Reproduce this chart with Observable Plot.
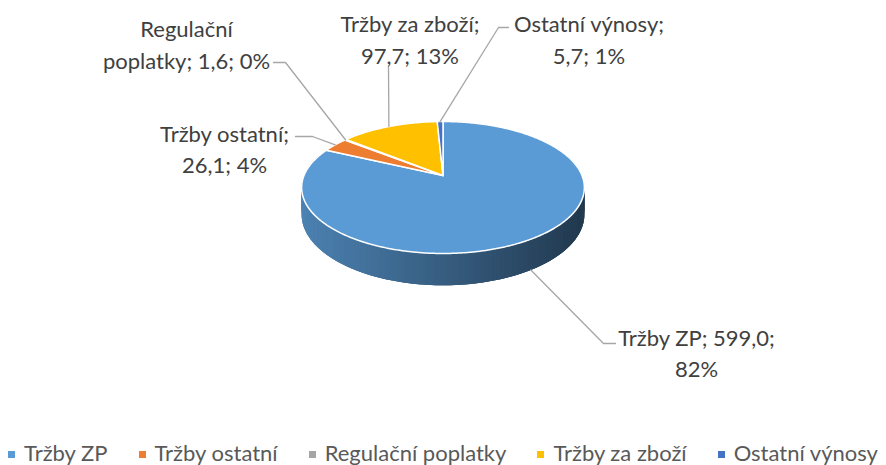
<!DOCTYPE html>
<html>
<head>
<meta charset="utf-8">
<script src="https://cdn.jsdelivr.net/npm/d3@7"></script>
<script src="https://cdn.jsdelivr.net/npm/@observablehq/plot@0.6"></script>
<style>
  html, body { margin: 0; padding: 0; background: #fff; }
  #chart { width: 886px; }
  .legend { display: flex; justify-content: center; align-items: center; gap: 31px; height: 33px; margin-top: 4px;
            font: 22px Lato, sans-serif; color: #595959; white-space: nowrap; }
  .legend .sw { display: inline-block; width: 7px; height: 7px; margin-right: 9px; vertical-align: middle; position: relative; top: -1px; }
</style>
</head>
<body>
<div id="chart"></div>
<script>
// ---- data ----
const categories = ["Tržby ZP", "Tržby ostatní", "Regulační poplatky", "Tržby za zboží", "Ostatní výnosy"];
const values = [599.0, 26.1, 1.6, 97.7, 5.7];
const colors = ["#5b9bd5", "#ed7d31", "#a5a5a5", "#ffc000", "#4472c4"];

// ---- layout (3D pie geometry, label placement) ----
const W = 886, H = 432;
const geo = { cx: 442.5, cy: 175, R: 139, B: 63.8, k: -0.182, D: 26 };
// label centres and leader elbows/ends for each category (same order)
const labelLayout = [
  { x: 696, y: 351, elbow: [603, 343], end: [615, 343] },
  { x: 224, y: 147, elbow: [312, 136], end: [295, 136] },
  { x: 186, y: 42.5, elbow: [285, 62], end: [273, 62] },
  { x: 409.5, y: 37.5, elbow: [388, 67], end: [388, 67] },
  { x: 588.5, y: 37.5, elbow: [498, 27], end: [508, 27] }
];

function proj(theta, depth = 0) {
  const u = Math.sin(theta), v = -Math.cos(theta);
  const s = 1 / (1 + geo.k * v);
  return [geo.cx + geo.R * u * s, geo.cy + geo.B * v * s + depth * geo.D * s];
}

const total = d3.sum(values);
const rows = categories.map((name, i) => ({ name, value: values[i], color: colors[i] }));
const arcs = d3.pie().sort(null).value(d => d.value).startAngle(0).endAngle(2 * Math.PI)(rows);

// top-face slice polygons
const slicePts = [];
arcs.forEach(a => {
  const name = a.data.name, color = a.data.color;
  slicePts.push({ name, color, x: geo.cx, y: geo.cy });
  const n = Math.max(2, Math.ceil((a.endAngle - a.startAngle) / (Math.PI / 360)));
  for (let j = 0; j <= n; j++) {
    const t = a.startAngle + (a.endAngle - a.startAngle) * j / n;
    const [x, y] = proj(t, 0);
    slicePts.push({ name, color, x, y });
  }
  slicePts.push({ name, color, x: geo.cx, y: geo.cy });
});

// side wall quads (front part), shaded by horizontal position; overlapping to avoid seams
const xs = d3.range(0, 360, 0.5).map(d => proj(d * Math.PI / 180, 0)[0]);
const xMin = d3.min(xs), xMax = d3.max(xs);
function sliceAt(theta) {
  return arcs.find(a => theta >= a.startAngle && theta < a.endAngle) || arcs[0];
}
const sidePts = [];
const step = Math.PI / 360;
let id = 0;
for (let t = 60 * Math.PI / 180; t < 300 * Math.PI / 180; t += step, id++) {
  const t1 = t + 3 * step;
  const base = d3.color(sliceAt(t + step / 2).data.color);
  const p0 = proj(t, 0), p1 = proj(t1, 0), p2 = proj(t1, 1), p3 = proj(t, 1);
  const f = (proj(t + step / 2, 0)[0] - xMin) / (xMax - xMin);
  const col = d3.interpolateRgb(base.darker(0.5), base.darker(2.8))(Math.max(0, Math.min(1, f)));
  [p0, p1, p2, p3, p0].forEach(p => sidePts.push({ id, color: col, x: p[0], y: p[1] }));
}

// labels
const canvas = document.createElement("canvas");
const ctx = canvas.getContext("2d");
ctx.font = "22px Lato";
function wrap(text, maxW) {
  const words = text.split(" ");
  const lines = [];
  let cur = "";
  for (const w of words) {
    const test = cur ? cur + " " + w : w;
    if (cur && ctx.measureText(test).width > maxW) { lines.push(cur); cur = w; }
    else cur = test;
  }
  if (cur) lines.push(cur);
  return lines.join("\n");
}
const fmt = v => v.toFixed(1).replace(".", ",");
const labels = arcs.map((a, i) => ({
  text: wrap(`${a.data.name}; ${fmt(a.data.value)}; ${Math.round(a.data.value / total * 100)}%`, 172),
  x: labelLayout[i].x, y: labelLayout[i].y
}));

// leader lines: anchor computed from slice mid-angle
const leaderPts = [];
arcs.forEach((a, i) => {
  const mid = (a.startAngle + a.endAngle) / 2;
  const front = -Math.cos(mid) > 0.3;
  const [ax, ay] = proj(mid, front ? 1 : 0);
  const L = labelLayout[i];
  [[ax, ay], L.elbow, L.end].forEach(p => leaderPts.push({ name: a.data.name, x: p[0], y: p[1] }));
});

const chart = Plot.plot({
  width: W, height: H, margin: 0,
  style: { fontFamily: "Lato, sans-serif", background: "#fff" },
  x: { domain: [0, W], range: [0, W], axis: null },
  y: { domain: [0, H], range: [0, H], axis: null },
  color: { type: "identity" },
  marks: [
    Plot.line(sidePts, { x: "x", y: "y", z: "id", fill: "color", stroke: "none" }),
    Plot.line(slicePts, { x: "x", y: "y", z: "name", fill: "color", stroke: "#fff", strokeWidth: 1.5, strokeLinejoin: "round" }),
    Plot.line(leaderPts, { x: "x", y: "y", z: "name", stroke: "#a6a6a6", strokeWidth: 1.3 }),
    Plot.text(labels, { x: "x", y: "y", text: "text", fill: "#404040", fontSize: 22, lineHeight: 1.44, fontFamily: "Lato, sans-serif" })
  ]
});
document.getElementById("chart").appendChild(chart);

// legend below
const legend = document.createElement("div");
legend.className = "legend";
categories.forEach((c, i) => {
  const item = document.createElement("span");
  const sw = document.createElement("span");
  sw.className = "sw";
  sw.style.background = colors[i];
  item.appendChild(sw);
  item.appendChild(document.createTextNode(c));
  legend.appendChild(item);
});
document.getElementById("chart").appendChild(legend);
</script>
</body>
</html>
